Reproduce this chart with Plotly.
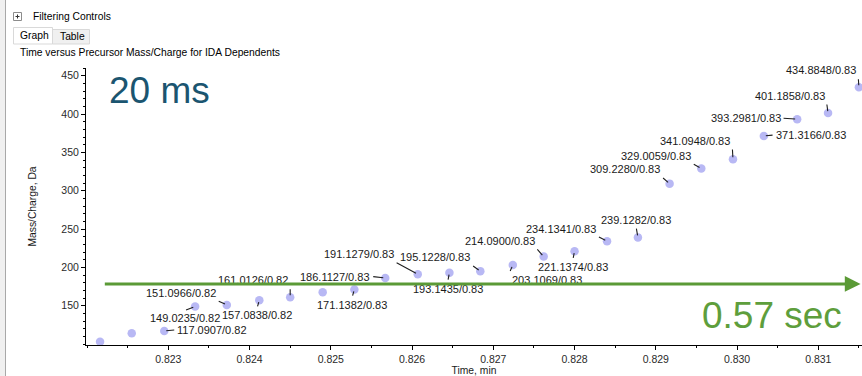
import plotly.graph_objects as go

# IDA dependent scans: retention time (min) and precursor m/z (Da)
times = [0.82216, 0.82255, 0.82295, 0.82333, 0.82372, 0.82412, 0.82450, 0.82490,
         0.82529, 0.82567, 0.82607, 0.82646, 0.82684, 0.82724, 0.82762, 0.82800,
         0.82840, 0.82878, 0.82917, 0.82956, 0.82995, 0.83033, 0.83074, 0.83112,
         0.83150]
mz = [103.0, 114.0, 117.0907, 149.0235, 151.0966, 157.0838, 161.0126, 167.6,
      171.1382, 186.1127, 191.1279, 193.1435, 195.1228, 203.1069, 214.0900, 221.1374,
      234.1341, 239.1282, 309.2280, 329.0059, 341.0948, 371.3166, 393.2981, 401.1858,
      434.8848]
labelled = [False, False, True, True, True, True, True, False,
            True, True, True, True, True, True, True, True,
            True, True, True, True, True, True, True, True,
            True]

# axis tick values
x_ticks = [0.823, 0.824, 0.825, 0.826, 0.827, 0.828, 0.829, 0.830, 0.831]
y_ticks = [150, 200, 250, 300, 350, 400, 450]

# cycle span marked by the arrow (min, Da) and the captions
span_start = 0.82220
span_end = 0.83152
span_level = 178.4
cycle_caption = "20 ms"
span_caption = "0.57 sec"

# label leader placement: (xanchor, yanchor, ax px, ay px) per labelled scan
label_pos = [
    None, None,
    ("left", "middle", 11, -1),
    ("center", "top", -10, 4),
    ("right", "bottom", -9, -4),
    ("center", "top", -2, 7),
    ("right", "bottom", 0, -9),
    None,
    ("center", "top", -2, 7),
    ("right", "middle", -13, -1.5),
    ("right", "bottom", -22, -12),
    ("center", "top", -1.5, 8),
    ("right", "bottom", -8, -5.7),
    ("left", "top", -3, 7),
    ("right", "bottom", -7, -8),
    ("center", "top", -1.5, 7.7),
    ("right", "bottom", -9, -4.7),
    ("center", "bottom", -1.7, -9.7),
    ("right", "bottom", -7.3, -6.3),
    ("right", "bottom", -8.4, -4.6),
    ("right", "bottom", -0.6, -10.6),
    ("left", "middle", 9.7, -1),
    ("right", "middle", -14.6, -1),
    ("right", "bottom", -1.3, -9.6),
    ("right", "bottom", -0.6, -9),
]

W, H = 862, 376
ML, MR, MT, MB = 86, 0, 68, 31
PW, PH = W - ML - MR, H - MT - MB


def fx(px):
    return (px - ML) / PW


def fy(py):
    return 1 - (py - MT) / PH


FONT = "Liberation Sans, Arial, sans-serif"
GREEN = "#5b9a36"

fig = go.Figure()
fig.add_trace(go.Scatter(
    x=times, y=mz, mode="markers",
    marker=dict(size=8.5, color="rgba(160,160,240,0.75)", line=dict(width=0)),
    hoverinfo="skip", showlegend=False,
))

annotations = []
for t, m, lab, pos in zip(times, mz, labelled, label_pos):
    if not lab:
        continue
    xa, ya, ax, ay = pos
    annotations.append(dict(
        x=t, y=m, xref="x", yref="y", text=f"{m:.4f}/{t:.2f}",
        showarrow=True, arrowhead=0, arrowwidth=1.1, arrowcolor="#1e1e1e",
        ax=ax, ay=ay, xanchor=xa, yanchor=ya, standoff=2, startstandoff=1,
        font=dict(family=FONT, size=11, color="#1a1a1a"), borderpad=1,
    ))

# cycle-time arrow drawn over the labels
annotations.append(dict(
    x=span_end, y=span_level, ax=span_start, ay=span_level,
    xref="x", yref="y", axref="x", ayref="y", text="",
    showarrow=True, arrowhead=2, arrowsize=1.05, arrowwidth=3, arrowcolor=GREEN,
))
annotations.append(dict(
    x=fx(107), y=fy(90), xref="paper", yref="paper", text=cycle_caption,
    showarrow=False, xanchor="left", yanchor="middle",
    font=dict(family=FONT, size=37, color="#1b5570"),
))
annotations.append(dict(
    x=fx(844), y=fy(315.5), xref="paper", yref="paper", text=span_caption,
    showarrow=False, xanchor="right", yanchor="middle",
    font=dict(family=FONT, size=37, color="#5e9e3c"),
))

# window chrome: panel header, tabs and chart title
ui_font = dict(family=FONT, size=10.3, color="#000000")
for txt, px, py in [("Filtering Controls", 31, 16.5), ("Graph", 18, 35),
                    ("Table", 58, 36.5),
                    ("Time versus Precursor Mass/Charge for IDA Dependents", 17.5, 52)]:
    annotations.append(dict(
        x=fx(px), y=fy(py), xref="paper", yref="paper", text=txt,
        showarrow=False, xanchor="left", yanchor="middle", font=ui_font,
    ))

shapes = [
    dict(type="rect", xref="paper", yref="paper", x0=fx(0), x1=fx(5), y0=fy(0), y1=fy(H),
         fillcolor="#f0f0f0", line=dict(width=0), layer="below"),
    dict(type="line", xref="paper", yref="paper", x0=fx(5.5), x1=fx(5.5), y0=fy(0), y1=fy(H),
         line=dict(color="#a8a8a8", width=1)),
    dict(type="rect", xref="paper", yref="paper", x0=fx(13.5), x1=fx(21.5), y0=fy(12.5),
         y1=fy(20.5), fillcolor="#ffffff", line=dict(color="#8c8c8c", width=1)),
    dict(type="line", xref="paper", yref="paper", x0=fx(15.5), x1=fx(19.5), y0=fy(16.5),
         y1=fy(16.5), line=dict(color="#333333", width=1)),
    dict(type="line", xref="paper", yref="paper", x0=fx(17.5), x1=fx(17.5), y0=fy(14.5),
         y1=fy(18.5), line=dict(color="#333333", width=1)),
    dict(type="rect", xref="paper", yref="paper", x0=fx(52.5), x1=fx(89.5), y0=fy(29.5),
         y1=fy(44), fillcolor="#f0f0f0", line=dict(color="#d9d9d9", width=1), layer="below"),
    dict(type="rect", xref="paper", yref="paper", x0=fx(13.5), x1=fx(52.5), y0=fy(27.5),
         y1=fy(44), fillcolor="#ffffff", line=dict(color="#d9d9d9", width=1), layer="below"),
]

tick_font = dict(family=FONT, size=10.5, color="#2a2a2a")
fig.update_layout(
    width=W, height=H,
    margin=dict(l=ML, r=MR, t=MT, b=MB, pad=0),
    paper_bgcolor="#ffffff", plot_bgcolor="#ffffff",
    showlegend=False,
    annotations=annotations, shapes=shapes,
    xaxis=dict(
        range=[0.821987, 0.831538], showgrid=False, zeroline=False,
        showline=True, linecolor="#000000", linewidth=1,
        ticks="outside", ticklen=4, tickcolor="#000000", tickwidth=1,
        tickmode="array", tickvals=x_ticks, ticktext=[f"{v:.3f}" for v in x_ticks],
        tickfont=tick_font,
        minor=dict(ticks="outside", ticklen=2, dtick=0.0005, tick0=0,
                   tickcolor="#000000"),
        title=dict(text="Time, min", font=dict(family=FONT, size=10.3, color="#1a1a1a"),
                   standoff=3),
    ),
    yaxis=dict(
        range=[98.8, 460], showgrid=False, zeroline=False,
        showline=True, linecolor="#000000", linewidth=1,
        ticks="outside", ticklen=4, tickcolor="#000000", tickwidth=1,
        tickmode="array", tickvals=y_ticks,
        tickfont=tick_font,
        minor=dict(ticks="outside", ticklen=2, dtick=10, tick0=0,
                   tickcolor="#000000"),
        title=dict(text="Mass/Charge, Da", font=dict(family=FONT, size=10.3, color="#1a1a1a"),
                   standoff=22),
    ),
)

fig.write_html("out.html")
